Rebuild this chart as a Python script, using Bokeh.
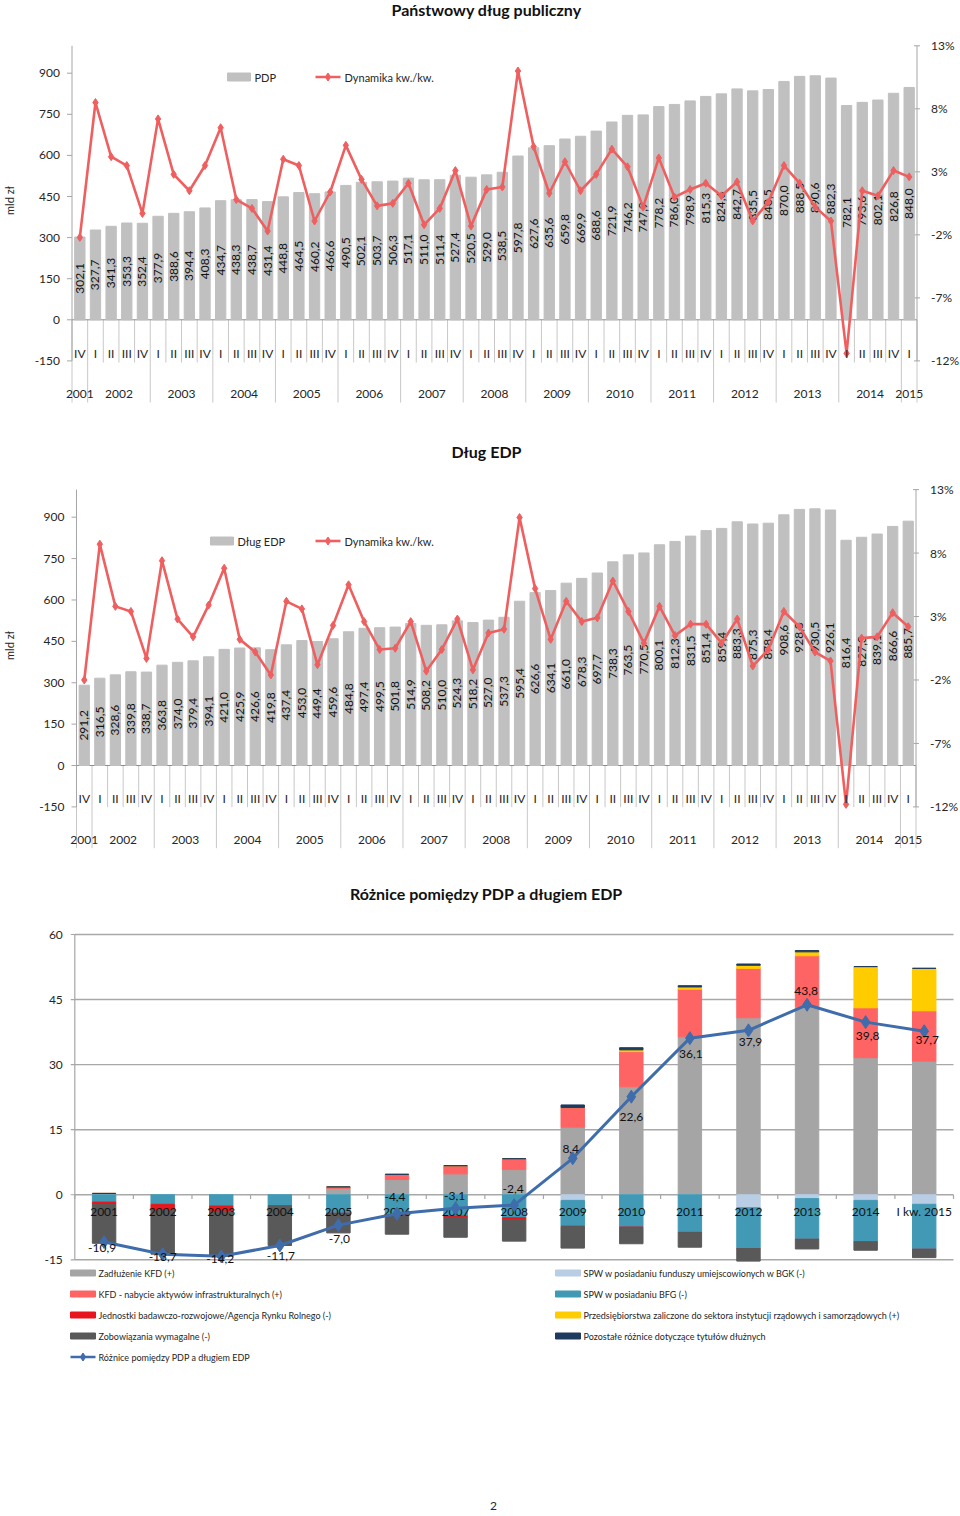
import numpy as np
from bokeh.plotting import figure
from bokeh.models import Range1d, ColumnDataSource, Grid
from bokeh.layouts import column
from bokeh.embed import file_html
from bokeh.resources import INLINE
from bokeh.core.properties import value

FONT = "Lato"
W = 960

# ---------------- data ----------------
year_names = [str(y) for y in range(2001, 2016)]
quarter_labels = ["IV"] + ["I", "II", "III", "IV"] * 13 + ["I"]
quarter_years = ["2001"] + [str(y) for y in range(2002, 2015) for _ in range(4)] + ["2015"]

pdp = [302.1, 327.7, 341.3, 353.3, 352.4, 377.9, 388.6, 394.4, 408.3, 434.7, 438.3, 438.7,
       431.4, 448.8, 464.5, 460.2, 466.6, 490.5, 502.1, 503.7, 506.3, 517.1, 511.0, 511.4,
       527.4, 520.5, 529.0, 538.5, 597.8, 627.6, 635.6, 659.8, 669.9, 688.6, 721.9, 746.2,
       747.9, 778.2, 786.0, 798.9, 815.3, 824.6, 842.7, 835.5, 840.5, 870.0, 888.5, 890.6,
       882.3, 782.1, 793.6, 802.1, 826.8, 848.0]
pdp_dyn = [-2.2, 8.5, 4.2, 3.5, -0.3, 7.2, 2.8, 1.5, 3.5, 6.5, 0.8, 0.1, -1.7, 4.0, 3.5, -0.9,
           1.4, 5.1, 2.4, 0.3, 0.5, 2.1, -1.2, 0.1, 3.1, -1.3, 1.6, 1.8, 11.0, 5.0, 1.3, 3.8,
           1.5, 2.8, 4.8, 3.4, 0.2, 4.1, 1.0, 1.6, 2.1, 1.1, 2.2, -0.9, 0.6, 3.5, 2.1, 0.2,
           -0.9, -11.4, 1.5, 1.1, 3.1, 2.6]

edp = [291.2, 316.5, 328.6, 339.8, 338.7, 363.8, 374.0, 379.4, 394.1, 421.0, 425.9, 426.6,
       419.8, 437.4, 453.0, 449.4, 459.6, 484.8, 497.4, 499.5, 501.8, 514.9, 508.2, 510.0,
       524.3, 518.2, 527.0, 537.3, 595.4, 626.6, 634.1, 661.0, 678.3, 697.7, 738.3, 763.5,
       770.5, 800.1, 812.3, 831.5, 851.4, 859.4, 883.3, 875.3, 878.4, 908.6, 928.3, 930.5,
       926.1, 816.4, 827.3, 839.1, 866.6, 885.7]
edp_dyn = [-2.0, 8.7, 3.8, 3.4, -0.3, 7.4, 2.8, 1.4, 3.9, 6.8, 1.2, 0.2, -1.6, 4.2, 3.6, -0.8,
           2.3, 5.5, 2.6, 0.4, 0.5, 2.6, -1.3, 0.4, 2.8, -1.2, 1.7, 2.0, 10.8, 5.2, 1.2, 4.2,
           2.6, 2.9, 5.8, 3.4, 0.9, 3.8, 1.5, 2.4, 2.4, 0.9, 2.8, -0.9, 0.4, 3.4, 2.2, 0.2,
           -0.5, -11.8, 1.3, 1.4, 3.3, 2.2]

left_ticks = [-150, 0, 150, 300, 450, 600, 750, 900]
pct_ticks = [-12, -7, -2, 3, 8, 13]

diff_cats = [str(y) for y in range(2001, 2015)] + ["I kw. 2015"]
kfd_debt = [0.3, 0, 0, 0, 1.5, 3.5, 4.8, 5.8, 15.6, 24.9, 36.4, 40.8, 43.3, 31.6, 30.8]
kfd_infra = [0, 0, 0, 0, 0.3, 1.2, 1.9, 2.5, 4.5, 8.1, 11.0, 11.4, 11.8, 11.5, 11.6]
enterprises = [0, 0, 0, 0, 0, 0, 0, 0, 0, 0.4, 0.5, 0.7, 0.9, 9.5, 9.8]
other_diff = [0, 0, 0, 0, 0, 0, 0, 0, 0.6, 0.5, 0.3, 0.3, 0.3, 0, 0]
spw_bgk = [0, 0, 0, 0, 0, 0, 0, 0, -1.3, 0, 0, -3.0, -0.9, -1.3, -2.2]
spw_bfg = [-1.7, -2.2, -2.6, -2.6, -4.3, -4.7, -4.9, -5.3, -6.0, -7.5, -8.7, -9.4, -9.4, -9.6, -10.4]
research_units = [-0.5, -1.2, -1.2, 0, 0, 0, -0.3, -0.4, 0, 0, 0, 0, 0, 0, 0]
liabilities = [-9.0, -10.3, -10.4, -9.1, -4.5, -4.4, -4.6, -5.0, -5.0, -3.8, -3.4, -2.9, -2.2, -1.9, -1.9]
pdp_edp_diff = [-10.9, -13.7, -14.2, -11.7, -7.0, -4.4, -3.1, -2.4, 8.4, 22.6, 36.1, 37.9, 43.8, 39.8, 37.7]
diff_ticks = [-15, 0, 15, 30, 45, 60]

# ---------------- helpers ----------------
AX = "#a6a6a6"
TXT = "#262626"
RED = "#ef5f5f"
BARG = "#c0c0c0"
SEP = "#c8c8c8"


def lin(pa, va, pb, vb):
    k = (vb - va) / (pb - pa)
    return lambda pp: va + (pp - pa) * k


def fmt(v):
    return f"{v:.1f}".replace(".", ",")


def base_figure(height, x0, x1, y_lo, y_hi):
    p = figure(width=W, height=height, title=None, x_range=Range1d(x0, x1),
               y_range=Range1d(y_lo, y_hi), output_backend="svg", toolbar_location=None,
               x_axis_location=None, y_axis_location=None, min_border=0,
               min_border_left=0, min_border_right=0, min_border_top=0, min_border_bottom=0,
               outline_line_color=None)
    for r in list(p.center):
        if isinstance(r, Grid):
            r.visible = False
    return p


def text(p, x, y, t, size="12px", align="center", **kw):
    p.text(x=x, y=y, text=t, text_align=align, text_baseline="middle",
           text_font=value(FONT), text_font_size=size, text_color=kw.pop("color", TXT), **kw)


def quarter_chart(title, vals, dyn, legend_name, top, height, vmap, cat_left, cat_right, pos):
    n = len(vals)
    s = (cat_right - cat_left) / n            # px per category
    x0 = -0.5 - cat_left / s
    x1 = x0 + W / s
    X = lambda px: x0 + px / s
    Y = vmap
    pct = lambda v: -12 + (v + 150) * 25 / 1150
    y_hi, y_lo = Y(top), Y(top + height)

    p = base_figure(height, x0, x1, y_lo, y_hi)
    p.extra_y_ranges = {"pct": Range1d(pct(y_lo), pct(y_hi))}

    idx = np.arange(n)
    xs, xe = -0.5, n - 0.5
    y_sep_s, y_sep_l = Y(pos["sep_s"]), Y(pos["sep_l"])

    # category separators
    long_b, short_b = [], []
    for i in range(0, n + 1):
        b = i - 0.5
        if i == 0 or i == n or quarter_years[i] != quarter_years[i - 1]:
            long_b.append(b)
        else:
            short_b.append(b)
    p.segment(x0=short_b, y0=[0] * len(short_b), x1=short_b, y1=[y_sep_s] * len(short_b),
              line_color=SEP, line_width=1)
    p.segment(x0=long_b, y0=[0] * len(long_b), x1=long_b, y1=[y_sep_l] * len(long_b),
              line_color=SEP, line_width=1)
    p.segment(x0=[xs], y0=[0], x1=[xe], y1=[0], line_color="#8c8c8c", line_width=1)

    # left value axis
    p.segment(x0=[xs], y0=[-150], x1=[xs], y1=[1000], line_color=AX, line_width=1)
    p.segment(x0=[xs - 5 / s] * len(left_ticks), y0=left_ticks, x1=[xs] * len(left_ticks),
              y1=left_ticks, line_color=AX, line_width=1)
    text(p, [xs - 12 / s] * len(left_ticks), left_ticks, [str(t) for t in left_ticks], align="right")
    p.text(x=[X(9)], y=[Y(pos["unit"])], text=["mld zł"], angle=np.pi / 2, text_align="center",
           text_baseline="middle", text_font=value(FONT), text_font_size="11px", text_color=TXT)

    # right value axis (percent)
    p.segment(x0=[xe], y0=[-12], x1=[xe], y1=[13], y_range_name="pct", line_color=AX, line_width=1)
    p.segment(x0=[xe - 3 / s] * len(pct_ticks), y0=pct_ticks, x1=[xe + 3 / s] * len(pct_ticks),
              y1=pct_ticks, y_range_name="pct", line_color=AX, line_width=1)
    p.text(x=[xe + 14 / s] * len(pct_ticks), y=pct_ticks, text=["%d%%" % t for t in pct_ticks],
           y_range_name="pct", text_align="left", text_baseline="middle", text_font=value(FONT),
           text_font_size="12px", text_color=TXT)

    # bars + labels
    p.vbar(x=idx, top=vals, width=0.66, color=BARG)
    p.text(x=idx, y=np.array(vals) / 2.0, text=[fmt(v) for v in vals], angle=np.pi / 2,
           text_align="center", text_baseline="middle", text_font=value(FONT),
           text_font_size="12px", text_color="#111111")

    # dynamics line
    p.line(x=idx, y=dyn, y_range_name="pct", line_color=RED, line_width=2.6)
    p.scatter(x=idx, y=dyn, y_range_name="pct", marker="diamond", size=8,
              fill_color=RED, line_color=RED)

    # category labels
    text(p, idx, [Y(pos["q"])] * n, quarter_labels)
    centers = [float(np.mean([i for i in range(n) if quarter_years[i] == yn])) for yn in year_names]
    text(p, centers, [Y(pos["yr"])] * len(centers), year_names)

    # title
    text(p, [X(486)], [Y(pos["title"])], [title], size="16px", text_font_style="bold", color="#111111")

    # legend
    ly = pos["leg"]
    sx0, sx1 = pos["sw"]
    p.quad(left=[X(sx0)], right=[X(sx1)], top=[Y(ly - 4)], bottom=[Y(ly + 4)], color=BARG)
    text(p, [X(sx1 + 4)], [Y(ly)], [legend_name], size="11px", align="left")
    p.line(x=[X(315), X(340)], y=[Y(ly), Y(ly)], line_color=RED, line_width=2.6)
    p.scatter(x=[X(327.5)], y=[Y(ly)], marker="diamond", size=8, fill_color=RED, line_color=RED)
    text(p, [X(344)], [Y(ly)], ["Dynamika kw./kw."], size="11px", align="left")
    return p


p1 = quarter_chart("Państwowy dług publiczny", pdp, pdp_dyn, "PDP", 0, 437,
                   lin(360.4, -150, 72.7, 900), 71.5, 916.5,
                   dict(sep_s=362, sep_l=402, q=352.7, yr=393, title=9, leg=76.5, sw=(227, 250),
                        unit=200))
p2 = quarter_chart("Dług EDP", edp, edp_dyn, "Dług EDP", 437, 438,
                   lin(806.4, -150, 516.7, 900), 76, 915.5,
                   dict(sep_s=806.7, sep_l=847.7, q=798, yr=839, title=451, leg=540.5, sw=(210, 233),
                        unit=645))

# ---------------- chart 3 ----------------
top3, h3 = 875, 637
Y3 = lin(1259.3, -15, 934, 60)
m = len(diff_cats)
c3_left, c3_right = 74.3, 953
s3 = (c3_right - c3_left) / m
x03 = -0.5 - c3_left / s3
x13 = x03 + W / s3
X3 = lambda px: x03 + px / s3

p3 = base_figure(h3, x03, x13, Y3(top3 + h3), Y3(top3))
idx3 = np.arange(m)
xs3, xe3 = -0.5, m - 0.5

# gridlines and value axis
p3.segment(x0=[xs3] * len(diff_ticks), y0=diff_ticks, x1=[xe3] * len(diff_ticks), y1=diff_ticks,
           line_color="#a8a8a8", line_width=1.4)
p3.segment(x0=[xs3], y0=[-15], x1=[xs3], y1=[60], line_color=AX, line_width=1.2)
p3.segment(x0=[xs3 - 4 / s3] * len(diff_ticks), y0=diff_ticks, x1=[xs3] * len(diff_ticks),
           y1=diff_ticks, line_color=AX, line_width=1.2)
text(p3, [xs3 - 12 / s3] * len(diff_ticks), diff_ticks, [str(t) for t in diff_ticks], align="right")

C_KFD, C_INF, C_JED, C_ZOB = "#a5a5a5", "#ff6464", "#e8161c", "#595959"
C_BGK, C_BFG, C_PRZ, C_POZ = "#b9cde5", "#4199b5", "#ffcc00", "#1f3a5f"
C_LINE = "#3f6cab"

bottom = np.zeros(m)
for sr, c in [(kfd_debt, C_KFD), (kfd_infra, C_INF), (enterprises, C_PRZ), (other_diff, C_POZ)]:
    t = bottom + np.array(sr, dtype=float)
    p3.vbar(x=idx3, bottom=bottom, top=t, width=0.4, color=c)
    bottom = t
topn = np.zeros(m)
for sr, c in [(spw_bgk, C_BGK), (spw_bfg, C_BFG), (research_units, C_JED), (liabilities, C_ZOB)]:
    b = topn + np.array(sr, dtype=float)
    p3.vbar(x=idx3, bottom=b, top=topn, width=0.4, color=c)
    topn = b

bnd = [i - 0.5 for i in range(m + 1)]
p3.segment(x0=bnd, y0=[0] * len(bnd), x1=bnd, y1=[Y3(1198.5)] * len(bnd), line_color=AX, line_width=1.2)

text(p3, idx3, [Y3(1211)] * m, diff_cats, color="#111111")

p3.line(x=idx3, y=pdp_edp_diff, line_color=C_LINE, line_width=3)
p3.scatter(x=idx3, y=pdp_edp_diff, marker="diamond", size=13, fill_color=C_LINE, line_color=C_LINE)

lab_dx = [-2, 0, -1, 1, 1, -2, -1, -1, -2, 0, 1, 2, -1, 2, 3]
lab_dy = [6, 3, 3, 11, 14, -17, -12, -16, -9, 20, 16, 12, -14, 14, 9]
src_lab = ColumnDataSource(dict(x=idx3, y=pdp_edp_diff, t=[fmt(v) for v in pdp_edp_diff],
                                dx=lab_dx, dy=lab_dy))
p3.text(x="x", y="y", text="t", x_offset="dx", y_offset="dy", source=src_lab,
        text_align="center", text_baseline="middle", text_font=value(FONT),
        text_font_size="12px", text_color="#111111")

text(p3, [X3(486)], [Y3(893)], ["Różnice pomiędzy PDP a długiem EDP"], size="16px",
     text_font_style="bold", color="#111111")

left_items = [("Zadłużenie KFD (+)", C_KFD),
              ("KFD - nabycie aktywów infrastrukturalnych (+)", C_INF),
              ("Jednostki badawczo-rozwojowe/Agencja Rynku Rolnego (-)", C_JED),
              ("Zobowiązania wymagalne (-)", C_ZOB)]
right_items = [("SPW w posiadaniu funduszy umiejscowionych w BGK (-)", C_BGK),
               ("SPW w posiadaniu BFG (-)", C_BFG),
               ("Przedsiębiorstwa zaliczone do sektora instytucji rządowych i samorządowych (+)", C_PRZ),
               ("Pozostałe różnice dotyczące tytułów dłużnych", C_POZ)]
rows = [1272.5, 1293.5, 1314.5, 1335.5, 1356.5]
for col_x, items in [(70, left_items), (555, right_items)]:
    for (name, c), ry in zip(items, rows):
        p3.quad(left=[X3(col_x)], right=[X3(col_x + 25)], top=[Y3(ry - 3)], bottom=[Y3(ry + 3)], color=c)
        text(p3, [X3(col_x + 28)], [Y3(ry)], [name], size="9px", align="left")
p3.line(x=[X3(70), X3(95)], y=[Y3(rows[4]), Y3(rows[4])], line_color=C_LINE, line_width=2.5)
p3.scatter(x=[X3(82.5)], y=[Y3(rows[4])], marker="diamond", size=8, fill_color=C_LINE, line_color=C_LINE)
text(p3, [X3(98)], [Y3(rows[4])], ["Różnice pomiędzy PDP a długiem EDP"], size="9px", align="left")

text(p3, [X3(493)], [Y3(1505)], ["2"])

layout = column(p1, p2, p3, spacing=0)
open("out.html", "w").write(file_html(layout, INLINE))
